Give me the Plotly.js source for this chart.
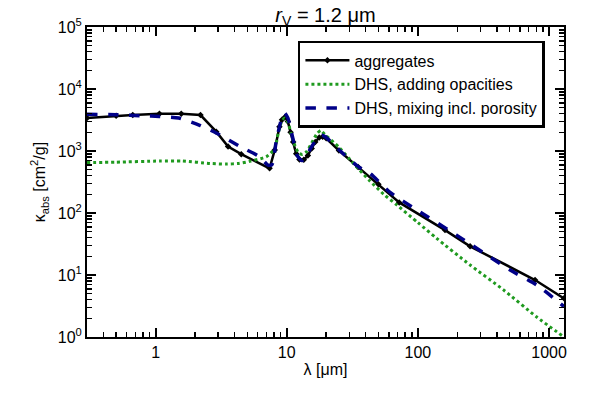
<!DOCTYPE html>
<html>
<head>
<meta charset="utf-8">
<script src="https://cdn.plot.ly/plotly-3.0.1.min.js"></script>
<style>
  body { margin: 0; background: #fff; }
  #plot_kabs { width: 591px; height: 393px; }
</style>
</head>
<body>
<div id="plot_kabs"></div>
<script>
// aggregates
var aggLambda = [0.3, 0.5, 0.67, 1.07, 1.57, 2.2, 2.9, 3.57, 4.5, 7.4, 8.1, 8.8, 9.2, 9.7, 10.2, 10.7, 11.2, 11.8, 12.5, 13.5, 14.5, 15.5, 16.5, 17.7, 18.8, 20, 25, 35, 50, 72, 161, 250, 782, 1300];
var aggKabs = [3400, 3700, 3800, 4000, 4000, 3800, 2050, 1180, 890, 525, 1040, 2450, 3200, 3550, 3000, 2000, 1400, 900, 730, 720, 850, 1100, 1400, 1650, 1700, 1600, 1020, 550, 290, 148, 53, 29, 8.3, 4.2];

// DHS, adding opacities
var addLambda = [0.3, 0.5, 1.07, 1.6, 2.6, 3.46, 4.3, 5.2, 7.0, 8.1, 8.6, 9.1, 9.6, 10.2, 10.8, 11.5, 12.3, 13.2, 14.2, 15.5, 17, 18.2, 19.5, 25, 30, 35, 43, 55, 69, 100, 139, 250, 447, 805, 1300];
var addKabs = [650, 660, 690, 690, 630, 615, 630, 680, 810, 1100, 1900, 2900, 3400, 2900, 1900, 1250, 930, 880, 980, 1350, 1900, 2150, 1850, 1150, 750, 520, 330, 200, 135, 70, 39, 14.5, 5.8, 2.1, 1.0];

// DHS, mixing incl. porosity
var mixLambda = [0.3, 0.5, 0.8, 1.07, 1.5, 2.17, 2.9, 4.4, 6.2, 7.2, 7.7, 8.3, 8.8, 9.2, 9.65, 10.2, 10.7, 11.3, 12, 13, 14, 15.2, 16.5, 17.7, 18.6, 20, 25, 35, 43, 61, 98, 197, 505, 805, 1300];
var mixKabs = [3900, 3850, 3700, 3600, 3400, 2600, 1950, 1180, 810, 590, 600, 1400, 2450, 3500, 4100, 3400, 2300, 1400, 850, 700, 800, 1100, 1450, 1750, 1800, 1650, 1050, 560, 437, 218, 112, 44, 12, 6.9, 3.1];

var xTickVals = [1, 10, 100, 1000];
var xTickText = ['1', '10', '100', '1000'];
var yTickVals = [1, 10, 100, 1000, 10000, 100000];
var yTickText = ['10<sup>0</sup>', '10<sup>1</sup>', '10<sup>2</sup>', '10<sup>3</sup>', '10<sup>4</sup>', '10<sup>5</sup>'];

function plotKabs() {
    let PLOT = document.getElementById('plot_kabs');

    let axisStyle = {
        type: 'log',
        showgrid: false,
        zeroline: false,
        showline: true,
        linecolor: 'black',
        linewidth: 2,
        mirror: 'allticks',
        ticks: 'inside',
        ticklen: 9,
        tickwidth: 2,
        tickcolor: 'black',
        tickmode: 'array',
        tickfont: { size: 16, color: 'black' },
        minor: { ticks: 'inside', ticklen: 5, tickwidth: 1.5, tickcolor: 'black', dtick: 'D1', tickmode: 'linear' },
    };

    let plot_data = [
        {
            x: aggLambda,
            y: aggKabs,
            name: 'aggregates',
            mode: 'lines+markers',
            line: { color: 'black', width: 2.5 },
            marker: { symbol: 'diamond', size: 5, color: 'black' },
        },
        {
            x: addLambda,
            y: addKabs,
            name: 'DHS, adding opacities',
            mode: 'lines',
            line: { color: '#1f9a1f', width: 3, dash: 'dot', shape: 'spline', smoothing: 0.6 },
        },
        {
            x: mixLambda,
            y: mixKabs,
            name: 'DHS, mixing incl. porosity',
            mode: 'lines',
            line: { color: '#000088', width: 3.5, dash: 'dash', shape: 'spline', smoothing: 0.6 },
        },
    ];

    Plotly.newPlot(PLOT, plot_data, {
        width: 591,
        height: 393,
        margin: { l: 87, r: 27, t: 27, b: 56 },
        paper_bgcolor: 'white',
        plot_bgcolor: 'white',
        font: { family: 'Liberation Sans, Arial, sans-serif', color: 'black' },
        title: {
            text: '<i>r</i><sub>V</sub> = 1.2 μm',
            font: { size: 20, color: 'black' },
            x: 0.5, xref: 'paper', xanchor: 'center',
            y: 1, yref: 'paper', yanchor: 'bottom',
            pad: { b: 5 },
        },
        xaxis: Object.assign({}, axisStyle, {
            range: [Math.log10(0.3), Math.log10(1300)],
            tickvals: xTickVals,
            ticktext: xTickText,
            title: { text: 'λ [μm]', font: { size: 16 }, standoff: 4 },
        }),
        yaxis: Object.assign({}, axisStyle, {
            range: [0, 5],
            tickvals: yTickVals,
            ticktext: yTickText,
            title: { text: 'κ<sub>abs</sub> [cm<sup>2</sup>/g]', font: { size: 16 }, standoff: 8 },
        }),
        showlegend: true,
        legend: {
            x: 0.96, xanchor: 'right',
            y: 0.955, yanchor: 'top',
            bgcolor: 'white',
            bordercolor: 'black',
            borderwidth: 2.5,
            font: { size: 16, color: 'black' },
            itemwidth: 44,
            tracegroupgap: 0,
        },
    }, { displayModeBar: false, staticPlot: true });
}

plotKabs();
</script>
</body>
</html>
